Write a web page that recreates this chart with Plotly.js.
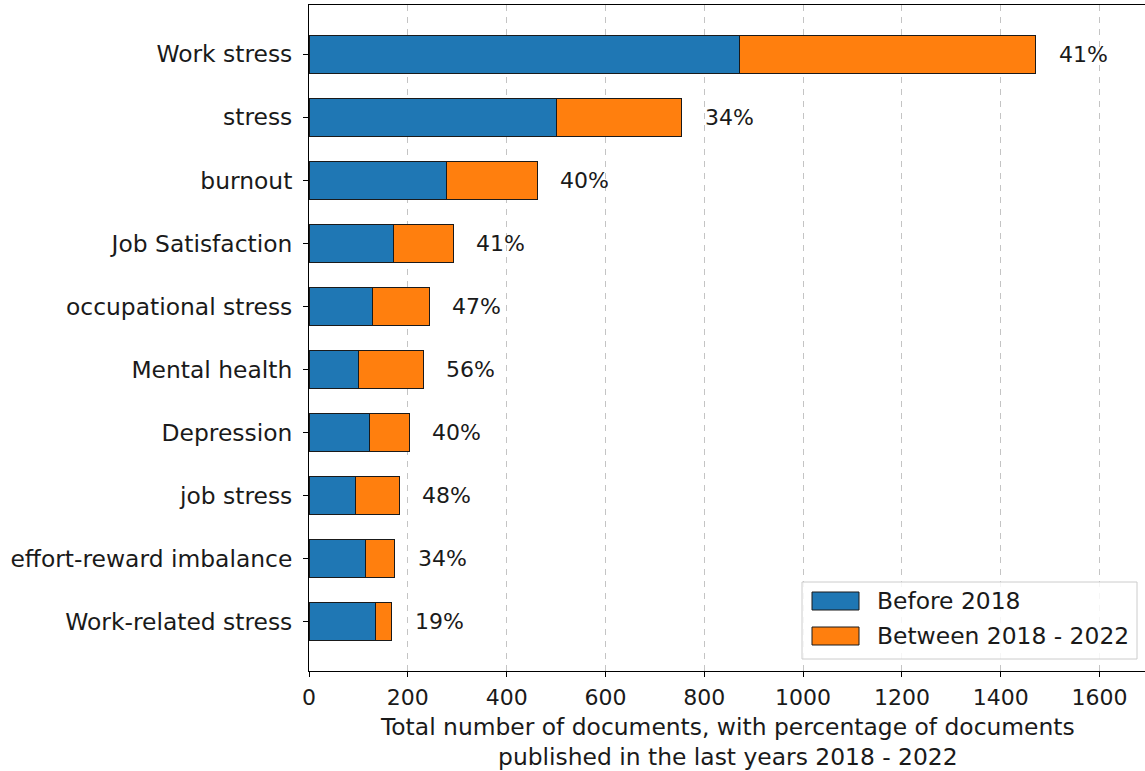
<!DOCTYPE html>
<html>
<head>
<meta charset="utf-8">
<script src="https://cdn.plot.ly/plotly-3.0.1.min.js"></script>
<style>
  html, body { margin: 0; padding: 0; background: #fff; }
  #chart { width: 1145px; height: 771px; }
</style>
</head>
<body>
<div id="chart"></div>
<script>
// Keywords, top to bottom
const keywords = [
  "Work stress", "stress", "burnout", "Job Satisfaction", "occupational stress",
  "Mental health", "Depression", "job stress", "effort-reward imbalance", "Work-related stress"
];
// Documents published before 2018
const beforeCounts = [871, 501, 278, 172, 128, 101, 122, 95, 115, 135];
// Documents published between 2018 and 2022
const recentCounts = [600, 253, 184, 120, 115, 130, 81, 88, 59, 32];
// Axis ticks
const xTicks = [0, 200, 400, 600, 800, 1000, 1200, 1400, 1600];
const xTitleLines = [
  "Total number of documents, with percentage of documents",
  "published in the last years 2018 - 2022"
];

const seriesNames = ["Before 2018", "Between 2018 - 2022"];
const colors = ["#1f77b4", "#ff7f0e"];
const edge = "#1a1a1a";
const font = "DejaVu Sans, Verdana, sans-serif";
const textColor = "#1a1a1a";
const fs = 22;      // tick numbers and bar percentages
const fsText = 23.4; // category labels, axis title, legend

const totals = beforeCounts.map((b, i) => b + recentCounts[i]);
const pctLabels = totals.map((t, i) => Math.round(recentCounts[i] / t * 100) + "%");

const traces = [
  {
    type: "bar", orientation: "h", y: keywords, x: beforeCounts, name: seriesNames[0],
    width: 0.6, marker: { color: colors[0], line: { color: edge, width: 1 } },
    showlegend: false, hoverinfo: "x+y"
  },
  {
    type: "bar", orientation: "h", y: keywords, x: recentCounts, name: seriesNames[1],
    width: 0.6, marker: { color: colors[1], line: { color: edge, width: 1 } },
    showlegend: false, hoverinfo: "x+y"
  }
];

// Plot area in pixels, used for the legend box and the axis title
const W = 1145, H = 771;
const mL = 309, mR = 0, mT = 5, mB = 100;
const pw = W - mL - mR, ph = H - mT - mB;
const px = v => (v - mL) / pw;
const py = v => (H - mB - v) / ph;

const annotations = keywords.map((k, i) => ({
  x: totals[i], y: k, xref: "x", yref: "y", text: pctLabels[i],
  showarrow: false, xanchor: "left", yanchor: "middle", xshift: 21,
  font: { family: font, size: fs, color: textColor }
}));

// x-axis title, two lines
annotations.push({
  x: 0.5, y: py(742), xref: "paper", yref: "paper", text: xTitleLines.join("<br>"),
  showarrow: false, xanchor: "center", yanchor: "middle", align: "center",
  font: { family: font, size: fsText, color: textColor }
});

const shapes = [
  // legend frame
  { type: "rect", xref: "paper", yref: "paper", x0: px(802), x1: px(1137), y0: py(582), y1: py(659),
    fillcolor: "rgba(255,255,255,0.85)", line: { color: "#cccccc", width: 1 }, layer: "above" },
  // legend patches
  { type: "rect", xref: "paper", yref: "paper", x0: px(812), x1: px(859), y0: py(592), y1: py(610),
    fillcolor: colors[0], line: { color: edge, width: 1 }, layer: "above" },
  { type: "rect", xref: "paper", yref: "paper", x0: px(812), x1: px(859), y0: py(627), y1: py(645),
    fillcolor: colors[1], line: { color: edge, width: 1 }, layer: "above" }
];

seriesNames.forEach((n, i) => {
  annotations.push({
    x: px(875), y: py(601 + 35 * i), xref: "paper", yref: "paper", text: n,
    showarrow: false, xanchor: "left", yanchor: "middle",
    font: { family: font, size: fsText, color: textColor }
  });
});

const layout = {
  width: W, height: H,
  margin: { l: mL, r: mR, t: mT, b: mB, pad: 0 },
  paper_bgcolor: "#ffffff", plot_bgcolor: "#ffffff",
  barmode: "stack", bargap: 0.4,
  font: { family: font, size: fs, color: textColor },
  xaxis: {
    range: [0, 1692], tickvals: xTicks, ticktext: xTicks.map(String),
    showline: true, linecolor: "#000", linewidth: 1, mirror: true,
    ticks: "outside", ticklen: 5, tickcolor: "#000", tickwidth: 1,
    ticklabelstandoff: 2,
    showgrid: true, gridcolor: "#c4c4c4", griddash: "6px,6px", gridwidth: 1,
    zeroline: false,
    tickfont: { family: font, size: fs, color: textColor }
  },
  yaxis: {
    type: "category", categoryorder: "array", categoryarray: keywords,
    range: [9.78, -0.78],
    showline: true, linecolor: "#000", linewidth: 1, mirror: false,
    ticks: "outside", ticklen: 5, tickcolor: "#000", tickwidth: 1,
    ticklabelstandoff: 6,
    showgrid: false, zeroline: false,
    tickfont: { family: font, size: fsText, color: textColor }
  },
  annotations: annotations,
  shapes: shapes
};

Plotly.newPlot("chart", traces, layout, { staticPlot: true, displayModeBar: false });
</script>
</body>
</html>
